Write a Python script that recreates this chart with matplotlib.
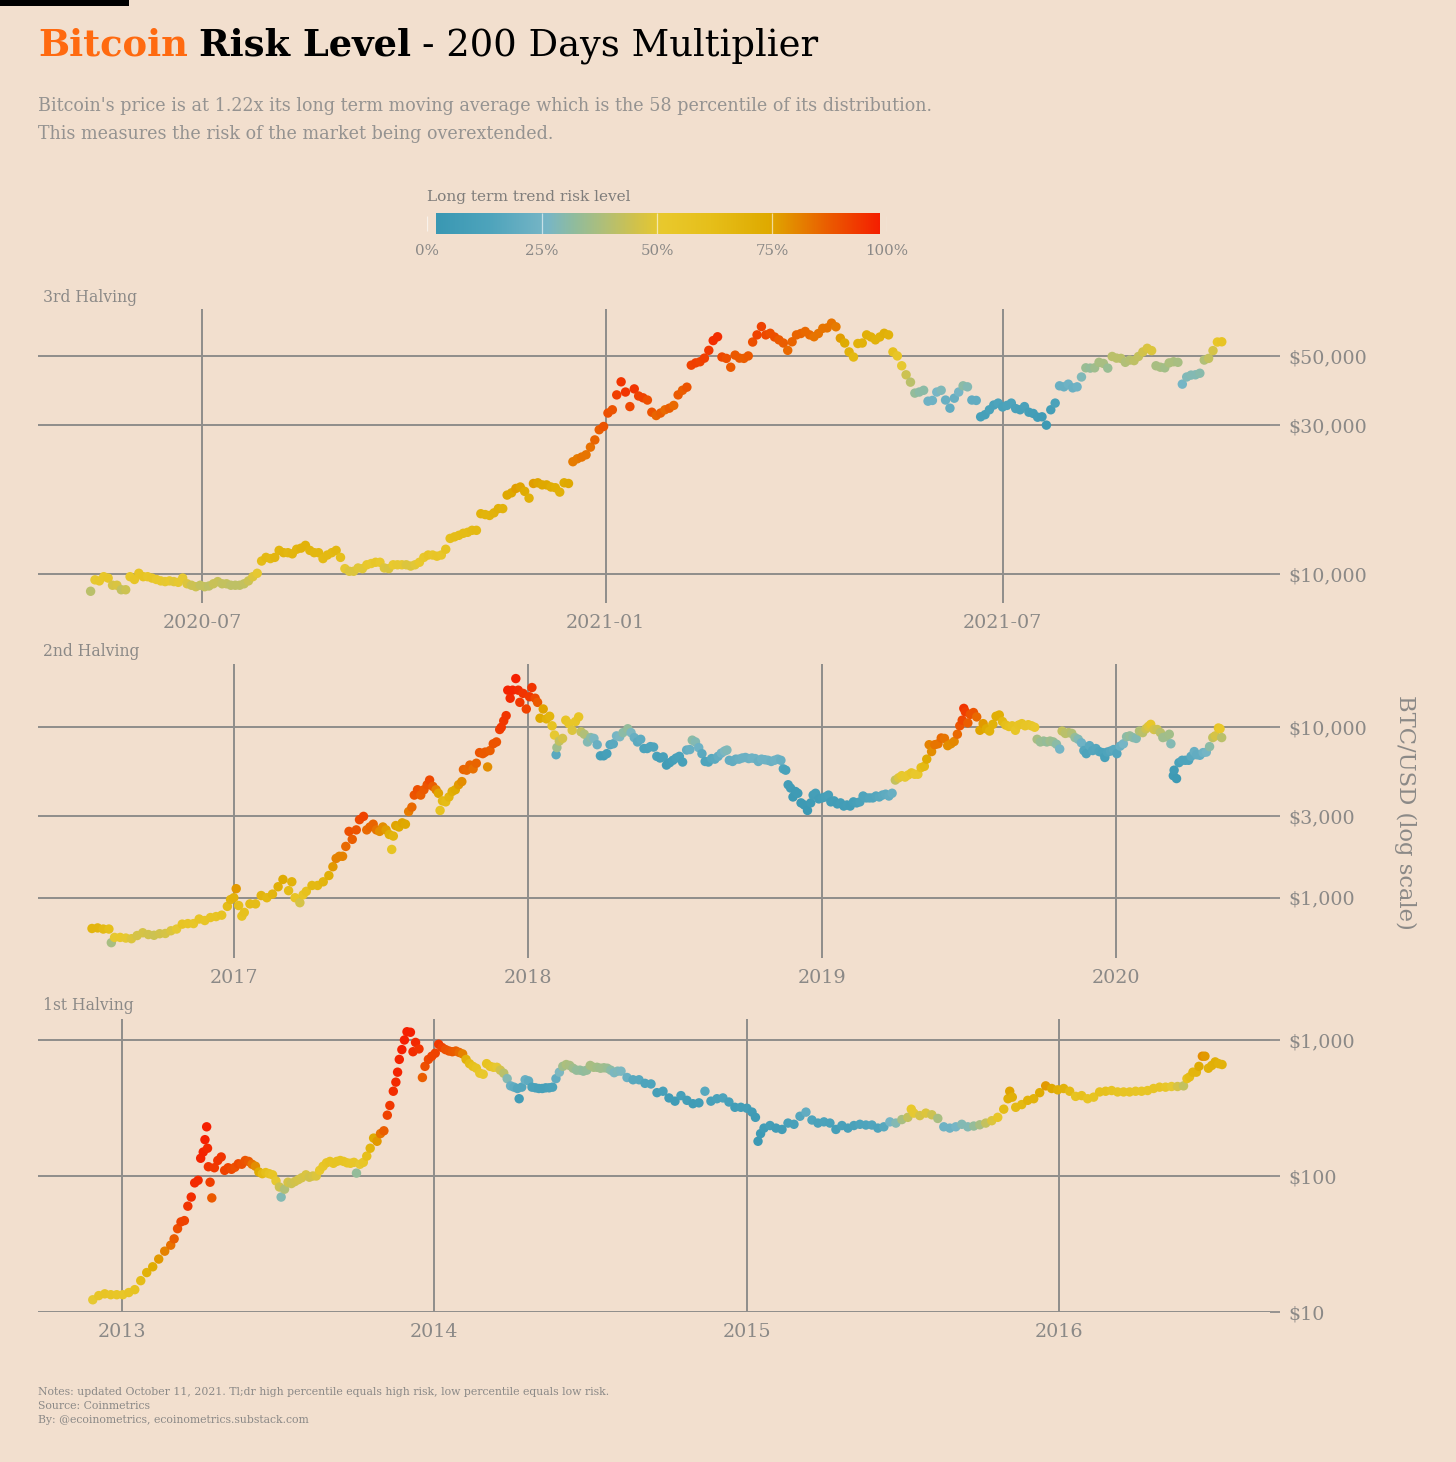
import matplotlib
matplotlib.use('Agg')
import matplotlib.pyplot as plt
from matplotlib.colors import LinearSegmentedColormap
from matplotlib.ticker import FixedLocator, NullLocator
from matplotlib.patches import Rectangle
import numpy as np
import pandas as pd

plt.rcParams['font.family'] = ['DejaVu Serif']

# ---------------- DATA ----------------
# 3rd halving (every 2 days from 2020-05-11)
p1_start = '2020-05-11'
p1_step_days = 2
p1_price = [
    8800, 9575, 9500, 9800, 9700, 9200, 9200, 8900, 8900, 9800,
    9600, 10050, 9800, 9800, 9700, 9600, 9500, 9450, 9500, 9450,
    9400, 9700, 9300, 9200, 9100, 9200, 9100, 9150, 9300, 9450,
    9300, 9300, 9200, 9200, 9200, 9300, 9500, 9800, 10050, 11000,
    11300, 11200, 11300, 11900, 11700, 11700, 11600, 12000, 12100, 12350,
    11900, 11700, 11700, 11200, 11500, 11700, 11900, 11300, 10400, 10200,
    10200, 10450, 10400, 10700, 10800, 10900, 10900, 10450, 10400, 10700,
    10700, 10700, 10700, 10600, 10700, 10900, 11300, 11500, 11500, 11400,
    11500, 12000, 13000, 13150, 13300, 13500, 13600, 13800, 13800, 15600,
    15500, 15400, 15700, 16200, 16200, 17900, 18200, 18800, 19000, 18400,
    17500, 19500, 19600, 19300, 19300, 19000, 18900, 18300, 19600, 19500,
    22900, 23400, 23700, 24100, 25500, 26900, 29000, 29700, 32800, 33600,
    37500, 41300, 38300, 34400, 39200, 37200, 36700, 36100, 33000, 32200,
    32800, 33600, 34000, 34700, 37500, 38800, 39700, 46700, 47500, 47900,
    49200, 52100, 56000, 57600, 49600, 49100, 46000, 50300, 49200, 49100,
    50000, 55400, 58400, 62100, 58400, 59100, 57500, 56300, 55000, 52100,
    55500, 58400, 59000, 59900, 58400, 57600, 59000, 61300, 61500, 63700,
    62000, 57000, 55000, 51500, 49600, 54800, 55000, 58400, 57500, 56300,
    57500, 59100, 58400, 51500, 50000, 46500, 43500, 41200, 38000, 38300,
    38800, 35800, 36000, 38300, 38800, 36100, 34000, 36600, 38300, 40100,
    39800, 36100, 36000, 31900, 32400, 33600, 34800, 35300, 34300, 34700,
    35300, 33900, 33600, 34400, 33000, 32700, 31800, 31900, 30000, 33600,
    35300, 40100, 39800, 40600, 39500, 39800, 42800, 45800, 45700, 45800,
    47700, 47300, 45700, 49800, 49200, 49100, 47700, 48500, 48300, 49800,
    51500, 52900, 52000, 46500, 46000, 45800, 47500, 47900, 47700, 40600,
    42800, 43400, 43500, 44000, 48500, 49100, 52000, 55400, 55500]
p1_risk = [
    40, 50, 53, 53, 54, 46, 47, 42, 44, 53,
    55, 56, 57, 54, 55, 52, 52, 50, 51, 49,
    50, 50, 48, 44, 44, 42, 42, 41, 43, 43,
    42, 42, 41, 41, 41, 42, 44, 48, 50, 64,
    66, 65, 68, 68, 69, 67, 68, 68, 70, 70,
    69, 67, 67, 65, 66, 66, 67, 62, 50, 48,
    48, 49, 49, 52, 51, 54, 52, 48, 47, 51,
    50, 50, 48, 48, 49, 52, 53, 56, 54, 55,
    54, 58, 62, 63, 63, 64, 64, 65, 66, 70,
    69, 69, 70, 71, 70, 75, 75, 77, 76, 74,
    71, 77, 76, 75, 75, 73, 72, 71, 74, 75,
    83, 83, 84, 84, 85, 87, 88, 90, 91, 90,
    94, 96, 96, 92, 96, 93, 93, 91, 90, 87,
    88, 86, 88, 86, 89, 88, 90, 93, 94, 93,
    94, 95, 97, 97, 92, 91, 89, 89, 89, 88,
    89, 91, 93, 93, 92, 91, 91, 89, 88, 86,
    87, 87, 87, 86, 86, 84, 84, 84, 84, 84,
    83, 77, 74, 70, 66, 70, 70, 72, 71, 70,
    70, 71, 70, 60, 55, 50, 44, 40, 32, 30,
    30, 22, 22, 25, 27, 20, 18, 20, 24, 30,
    28, 18, 18, 8, 8, 10, 10, 12, 10, 11,
    11, 9, 8, 9, 7, 6, 5, 4, 2, 6,
    10, 20, 20, 22, 21, 22, 27, 33, 32, 34,
    36, 36, 33, 40, 40, 40, 38, 39, 41, 42,
    45, 47, 48, 36, 36, 35, 37, 37, 36, 24,
    27, 28, 28, 29, 38, 42, 46, 54, 56]

# 2nd halving
p2_dates = [
    '2016-07-09','2016-07-16','2016-07-23','2016-07-30','2016-08-02','2016-08-06','2016-08-13','2016-08-20','2016-08-27','2016-09-03',
    '2016-09-10','2016-09-17','2016-09-24','2016-10-01','2016-10-08','2016-10-15','2016-10-22','2016-10-29','2016-11-05','2016-11-12',
    '2016-11-19','2016-11-26','2016-12-03','2016-12-10','2016-12-17','2016-12-24','2016-12-28','2017-01-01','2017-01-04','2017-01-07',
    '2017-01-11','2017-01-14','2017-01-21','2017-01-28','2017-02-04','2017-02-11','2017-02-18','2017-02-25','2017-03-03','2017-03-10',
    '2017-03-14','2017-03-18','2017-03-24','2017-03-28','2017-04-01','2017-04-08','2017-04-15','2017-04-22','2017-04-29','2017-05-04',
    '2017-05-08','2017-05-12','2017-05-16','2017-05-20','2017-05-24','2017-05-28','2017-06-02','2017-06-06','2017-06-11','2017-06-15',
    '2017-06-19','2017-06-23','2017-06-27','2017-07-01','2017-07-05','2017-07-09','2017-07-13','2017-07-16','2017-07-18','2017-07-21',
    '2017-07-25','2017-07-29','2017-08-02','2017-08-06','2017-08-10','2017-08-13','2017-08-17','2017-08-21','2017-08-25','2017-08-29',
    '2017-09-01','2017-09-05','2017-09-09','2017-09-12','2017-09-14','2017-09-17','2017-09-21','2017-09-25','2017-09-29','2017-10-03',
    '2017-10-07','2017-10-11','2017-10-13','2017-10-17','2017-10-21','2017-10-25','2017-10-29','2017-11-02','2017-11-06','2017-11-09',
    '2017-11-12','2017-11-15','2017-11-19','2017-11-23','2017-11-27','2017-11-29','2017-12-02','2017-12-05','2017-12-07','2017-12-10',
    '2017-12-13','2017-12-17','2017-12-20','2017-12-22','2017-12-26','2017-12-30','2018-01-03','2018-01-06','2018-01-10','2018-01-13',
    '2018-01-16','2018-01-20','2018-01-24','2018-01-28','2018-01-31','2018-02-03','2018-02-05','2018-02-06','2018-02-09','2018-02-13',
    '2018-02-17','2018-02-21','2018-02-25','2018-03-01','2018-03-05','2018-03-08','2018-03-12','2018-03-16','2018-03-20','2018-03-24',
    '2018-03-28','2018-04-01','2018-04-05','2018-04-09','2018-04-13','2018-04-17','2018-04-21','2018-04-25','2018-04-29','2018-05-05',
    '2018-05-09','2018-05-13','2018-05-17','2018-05-21','2018-05-25','2018-05-29','2018-06-02','2018-06-06','2018-06-10','2018-06-14',
    '2018-06-18','2018-06-22','2018-06-26','2018-06-30','2018-07-04','2018-07-08','2018-07-12','2018-07-17','2018-07-21','2018-07-24',
    '2018-07-28','2018-08-01','2018-08-05','2018-08-09','2018-08-13','2018-08-17','2018-08-21','2018-08-25','2018-08-29','2018-09-02',
    '2018-09-05','2018-09-08','2018-09-12','2018-09-16','2018-09-20','2018-09-24','2018-09-28','2018-10-02','2018-10-06','2018-10-10',
    '2018-10-14','2018-10-18','2018-10-22','2018-10-26','2018-10-30','2018-11-03','2018-11-07','2018-11-11','2018-11-14','2018-11-17',
    '2018-11-20','2018-11-23','2018-11-26','2018-11-29','2018-12-02','2018-12-06','2018-12-10','2018-12-14','2018-12-18','2018-12-21',
    '2018-12-24','2018-12-28','2019-01-01','2019-01-05','2019-01-09','2019-01-12','2019-01-16','2019-01-20','2019-01-24','2019-01-28',
    '2019-02-01','2019-02-05','2019-02-09','2019-02-13','2019-02-17','2019-02-21','2019-02-25','2019-03-01','2019-03-05','2019-03-09',
    '2019-03-13','2019-03-17','2019-03-21','2019-03-25','2019-03-29','2019-04-02','2019-04-06','2019-04-10','2019-04-14','2019-04-18',
    '2019-04-22','2019-04-26','2019-04-30','2019-05-04','2019-05-08','2019-05-11','2019-05-14','2019-05-17','2019-05-21','2019-05-25',
    '2019-05-29','2019-06-02','2019-06-06','2019-06-10','2019-06-14','2019-06-18','2019-06-21','2019-06-24','2019-06-26','2019-06-28',
    '2019-07-01','2019-07-04','2019-07-08','2019-07-12','2019-07-16','2019-07-20','2019-07-24','2019-07-28','2019-08-01','2019-08-05',
    '2019-08-09','2019-08-13','2019-08-17','2019-08-21','2019-08-25','2019-08-29','2019-09-02','2019-09-06','2019-09-10','2019-09-14',
    '2019-09-18','2019-09-22','2019-09-25','2019-09-29','2019-10-03','2019-10-07','2019-10-11','2019-10-15','2019-10-19','2019-10-23',
    '2019-10-26','2019-10-30','2019-11-03','2019-11-07','2019-11-11','2019-11-15','2019-11-19','2019-11-22','2019-11-25','2019-11-29',
    '2019-12-03','2019-12-07','2019-12-11','2019-12-15','2019-12-18','2019-12-21','2019-12-25','2019-12-29','2020-01-02','2020-01-06',
    '2020-01-10','2020-01-14','2020-01-18','2020-01-22','2020-01-26','2020-01-30','2020-02-03','2020-02-07','2020-02-10','2020-02-13',
    '2020-02-17','2020-02-21','2020-02-25','2020-02-28','2020-03-03','2020-03-07','2020-03-09','2020-03-12','2020-03-13','2020-03-16',
    '2020-03-19','2020-03-23','2020-03-27','2020-03-31','2020-04-03','2020-04-07','2020-04-10','2020-04-14','2020-04-18','2020-04-22',
    '2020-04-26','2020-04-30','2020-05-03','2020-05-07','2020-05-09','2020-05-11']
p2_price = [
    660, 665, 655, 655, 545, 585, 585, 580, 575, 600,
    623, 608, 602, 615, 617, 640, 655, 700, 705, 705,
    750, 735, 765, 775, 790, 890, 975, 1000, 1130, 900,
    780, 820, 920, 920, 1030, 1000, 1050, 1160, 1280, 1100,
    1240, 1000, 935, 1040, 1090, 1180, 1180, 1240, 1350, 1520,
    1700, 1750, 1750, 2000, 2450, 2200, 2500, 2870, 3000, 2500,
    2600, 2700, 2500, 2450, 2600, 2500, 2350, 1920, 2300, 2650,
    2600, 2750, 2700, 3200, 3400, 4000, 4300, 4000, 4300, 4600,
    4900, 4500, 4300, 4100, 3250, 3700, 3650, 3900, 4200, 4300,
    4600, 4800, 5650, 5600, 6000, 5700, 6150, 7100, 7000, 7150,
    5850, 7300, 8000, 8200, 9700, 10000, 10900, 11700, 16500, 14800,
    16500, 19300, 16500, 14000, 15800, 12800, 15100, 17100, 14800, 14000,
    11300, 12800, 11200, 11600, 10200, 9000, 6900, 7600, 8300, 8600,
    11000, 10500, 9600, 10800, 11500, 9400, 9100, 8200, 8700, 8600,
    7900, 6800, 6800, 7000, 7900, 8000, 8900, 8800, 9300, 9800,
    9300, 8700, 8200, 8500, 7500, 7500, 7700, 7650, 6750, 6600,
    6700, 6000, 6200, 6400, 6600, 6750, 6250, 7350, 7400, 8400,
    8200, 7600, 7000, 6300, 6250, 6550, 6500, 6750, 7050, 7250,
    7350, 6400, 6300, 6500, 6500, 6600, 6650, 6550, 6600, 6550,
    6300, 6500, 6450, 6400, 6300, 6400, 6500, 6400, 5700, 5600,
    4600, 4400, 3900, 4200, 4100, 3600, 3500, 3250, 3600, 4000,
    4100, 3800, 3850, 3900, 4000, 3650, 3700, 3550, 3600, 3450,
    3500, 3450, 3650, 3600, 3650, 3950, 3850, 3850, 3850, 3950,
    3900, 4000, 4050, 3950, 4100, 4900, 5050, 5200, 5100, 5250,
    5400, 5300, 5300, 5800, 5900, 6500, 7900, 7200, 7900, 8000,
    8650, 8600, 7800, 8000, 8250, 9100, 10200, 11000, 12900, 12300,
    10600, 11900, 12200, 11500, 9600, 10500, 9800, 9500, 10400, 11600,
    11800, 10800, 10300, 10100, 10200, 9600, 10300, 10500, 10200, 10350,
    10200, 10000, 8500, 8200, 8300, 8200, 8300, 8200, 7950, 7450,
    9500, 9200, 9300, 9200, 8700, 8500, 8100, 7300, 7000, 7800,
    7300, 7500, 7200, 7100, 6650, 7150, 7250, 7400, 7000, 7750,
    8000, 8800, 8900, 8700, 8600, 9500, 9300, 9800, 10100, 10400,
    9700, 9700, 9300, 8700, 8800, 9100, 8000, 5200, 5600, 5000,
    6200, 6400, 6400, 6400, 6750, 7200, 6900, 6850, 7100, 7150,
    7700, 8700, 8900, 9900, 9800, 8700]
p2_risk = [
    68, 68, 65, 62, 36, 50, 52, 50, 48, 46,
    46, 45, 44, 45, 46, 48, 50, 56, 55, 54,
    56, 55, 56, 56, 58, 64, 68, 70, 78, 62,
    58, 60, 64, 64, 68, 66, 68, 72, 74, 64,
    70, 56, 46, 56, 60, 66, 66, 68, 72, 78,
    82, 82, 82, 86, 91, 88, 90, 92, 93, 86,
    87, 87, 84, 80, 80, 77, 72, 57, 68, 76,
    74, 76, 75, 83, 86, 90, 91, 88, 89, 90,
    92, 88, 82, 76, 58, 66, 64, 68, 72, 74,
    78, 80, 87, 86, 87, 85, 87, 90, 89, 89,
    80, 88, 90, 90, 94, 95, 95, 96, 99, 98,
    99, 100, 98, 95, 96, 93, 95, 96, 92, 89,
    74, 76, 70, 68, 58, 50, 16, 34, 42, 46,
    56, 54, 48, 54, 56, 42, 38, 28, 30, 26,
    20, 8, 6, 8, 14, 16, 24, 26, 30, 32,
    26, 20, 16, 17, 11, 11, 12, 12, 8, 7,
    8, 4, 5, 7, 9, 10, 8, 18, 20, 30,
    28, 22, 16, 12, 12, 15, 16, 18, 22, 26,
    27, 18, 18, 19, 20, 21, 21, 21, 22, 22,
    20, 22, 22, 22, 21, 22, 22, 20, 12, 10,
    5, 4, 2, 3, 3, 2, 2, 1, 3, 6,
    7, 5, 6, 7, 8, 5, 6, 5, 6, 5,
    6, 5, 7, 8, 10, 12, 12, 13, 13, 14,
    15, 16, 17, 18, 20, 42, 48, 52, 50, 52,
    55, 52, 52, 62, 66, 74, 82, 80, 84, 84,
    86, 84, 80, 80, 81, 86, 90, 92, 96, 94,
    88, 90, 90, 86, 76, 78, 74, 70, 70, 72,
    72, 66, 62, 60, 58, 54, 56, 57, 55, 55,
    54, 52, 36, 33, 33, 32, 34, 33, 30, 24,
    42, 40, 40, 38, 32, 28, 22, 14, 11, 16,
    13, 14, 12, 11, 8, 12, 14, 16, 13, 20,
    24, 30, 32, 30, 28, 38, 40, 44, 48, 53,
    46, 44, 40, 34, 34, 35, 28, 3, 4, 2,
    10, 12, 12, 12, 16, 20, 18, 18, 22, 24,
    30, 42, 46, 55, 52, 40]

# 1st halving
p3_dates = [
    '2012-11-28','2012-12-05','2012-12-12','2012-12-19','2012-12-26','2013-01-02','2013-01-09','2013-01-16','2013-01-23','2013-01-30',
    '2013-02-06','2013-02-13','2013-02-20','2013-02-27','2013-03-03','2013-03-07','2013-03-11','2013-03-15','2013-03-19','2013-03-23',
    '2013-03-27','2013-03-31','2013-04-03','2013-04-06','2013-04-08','2013-04-10','2013-04-11','2013-04-12','2013-04-14','2013-04-16',
    '2013-04-19','2013-04-23','2013-04-27','2013-05-01','2013-05-05','2013-05-09','2013-05-13','2013-05-17','2013-05-21','2013-05-25',
    '2013-05-29','2013-06-02','2013-06-06','2013-06-10','2013-06-14','2013-06-18','2013-06-22','2013-06-26','2013-06-30','2013-07-04',
    '2013-07-06','2013-07-10','2013-07-14','2013-07-18','2013-07-22','2013-07-26','2013-07-30','2013-08-04','2013-08-08','2013-08-12',
    '2013-08-16','2013-08-20','2013-08-24','2013-08-28','2013-09-01','2013-09-05','2013-09-09','2013-09-13','2013-09-17','2013-09-21',
    '2013-09-25','2013-09-29','2013-10-02','2013-10-06','2013-10-10','2013-10-14','2013-10-18','2013-10-22','2013-10-26','2013-10-30',
    '2013-11-03','2013-11-07','2013-11-10','2013-11-14','2013-11-17','2013-11-19','2013-11-21','2013-11-24','2013-11-27','2013-11-30',
    '2013-12-04','2013-12-07','2013-12-10','2013-12-14','2013-12-18','2013-12-21','2013-12-25','2013-12-29','2014-01-02','2014-01-06',
    '2014-01-10','2014-01-14','2014-01-18','2014-01-22','2014-01-26','2014-01-30','2014-02-03','2014-02-07','2014-02-11','2014-02-15',
    '2014-02-19','2014-02-23','2014-02-27','2014-03-03','2014-03-07','2014-03-11','2014-03-15','2014-03-19','2014-03-23','2014-03-27',
    '2014-03-31','2014-04-04','2014-04-08','2014-04-10','2014-04-13','2014-04-17','2014-04-21','2014-04-25','2014-04-29','2014-05-03',
    '2014-05-07','2014-05-11','2014-05-15','2014-05-19','2014-05-23','2014-05-27','2014-05-31','2014-06-04','2014-06-08','2014-06-12',
    '2014-06-16','2014-06-20','2014-06-24','2014-06-28','2014-07-02','2014-07-06','2014-07-10','2014-07-14','2014-07-18','2014-07-22',
    '2014-07-26','2014-07-30','2014-08-03','2014-08-07','2014-08-14','2014-08-21','2014-08-28','2014-09-04','2014-09-11','2014-09-18',
    '2014-09-25','2014-10-02','2014-10-09','2014-10-16','2014-10-23','2014-10-30','2014-11-06','2014-11-13','2014-11-20','2014-11-27',
    '2014-12-04','2014-12-11','2014-12-18','2014-12-25','2015-01-01','2015-01-07','2015-01-11','2015-01-14','2015-01-17','2015-01-21',
    '2015-01-28','2015-02-04','2015-02-11','2015-02-18','2015-02-25','2015-03-04','2015-03-11','2015-03-18','2015-03-25','2015-04-01',
    '2015-04-08','2015-04-15','2015-04-22','2015-04-29','2015-05-06','2015-05-13','2015-05-20','2015-05-27','2015-06-03','2015-06-10',
    '2015-06-17','2015-06-24','2015-07-01','2015-07-08','2015-07-12','2015-07-15','2015-07-22','2015-07-29','2015-08-05','2015-08-12',
    '2015-08-19','2015-08-26','2015-09-02','2015-09-09','2015-09-16','2015-09-23','2015-09-30','2015-10-07','2015-10-14','2015-10-21',
    '2015-10-28','2015-11-02','2015-11-04','2015-11-07','2015-11-11','2015-11-18','2015-11-25','2015-12-02','2015-12-09','2015-12-16',
    '2015-12-23','2015-12-30','2016-01-06','2016-01-13','2016-01-20','2016-01-27','2016-02-03','2016-02-10','2016-02-17','2016-02-24',
    '2016-03-02','2016-03-09','2016-03-16','2016-03-23','2016-03-30','2016-04-06','2016-04-13','2016-04-20','2016-04-27','2016-05-04',
    '2016-05-11','2016-05-18','2016-05-25','2016-05-29','2016-06-01','2016-06-05','2016-06-09','2016-06-12','2016-06-16','2016-06-19',
    '2016-06-23','2016-06-27','2016-07-01','2016-07-05','2016-07-09']
p3_price = [
    12.3, 13.2, 13.6, 13.4, 13.4, 13.4, 13.9, 14.6, 17.0, 19.5,
    21.5, 24.5, 28.0, 31.0, 34.5, 41.0, 46.0, 47.0, 60.0, 70.0,
    89, 93, 135, 150, 185, 230, 160, 117, 90, 69,
    115, 130, 138, 110, 115, 112, 116, 123, 122, 130,
    128, 122, 118, 107, 104, 106, 104, 102, 92, 83,
    70, 80, 90, 88, 91, 94, 97, 102, 98, 100,
    100, 110, 118, 125, 128, 124, 128, 130, 128, 125,
    124, 126, 105, 122, 126, 140, 160, 190, 180, 205,
    215, 280, 330, 420, 490, 580, 720, 850, 1000, 1150,
    1140, 820, 960, 860, 530, 640, 720, 760, 800, 930,
    880, 850, 830, 820, 830, 810, 790, 720, 670, 640,
    620, 570, 560, 670, 640, 630, 630, 600, 570, 520,
    460, 450, 440, 370, 450, 510, 500, 450, 445, 440,
    440, 445, 445, 450, 520, 580, 640, 660, 650, 620,
    600, 600, 590, 600, 650, 630, 630, 620, 625, 620,
    600, 575, 590, 590, 530, 510, 510, 480, 475, 410,
    420, 375, 355, 390, 360, 340, 345, 420, 355, 370,
    375, 350, 320, 320, 315, 295, 270, 180, 205, 225,
    235, 225, 220, 245, 240, 275, 295, 258, 245, 250,
    245, 220, 235, 225, 235, 240, 237, 237, 225, 230,
    250, 245, 260, 270, 310, 290, 278, 290, 282, 265,
    230, 225, 230, 240, 230, 233, 238, 245, 255, 270,
    310, 370, 420, 380, 320, 335, 360, 370, 410, 460,
    440, 430, 440, 420, 385, 390, 370, 380, 415, 420,
    425, 415, 415, 415, 420, 420, 425, 440, 450, 450,
    455, 455, 460, 520, 535, 580, 580, 640, 760, 760,
    620, 650, 690, 670, 660]
p3_risk = [
    50, 55, 56, 55, 54, 54, 56, 58, 64, 70,
    73, 78, 82, 85, 88, 91, 93, 93, 96, 97,
    98, 98, 99, 99, 100, 100, 98, 96, 94, 89,
    95, 96, 96, 93, 93, 92, 91, 92, 91, 90,
    89, 84, 80, 74, 66, 62, 58, 55, 50, 44,
    28, 38, 46, 44, 45, 46, 46, 47, 45, 46,
    48, 52, 54, 56, 58, 56, 57, 57, 56, 55,
    54, 54, 32, 50, 54, 62, 68, 74, 78, 84,
    88, 93, 95, 97, 98, 99, 99, 100, 100, 100,
    100, 97, 98, 96, 88, 91, 92, 93, 93, 95,
    93, 91, 90, 89, 88, 86, 82, 70, 64, 60,
    57, 54, 52, 58, 56, 54, 50, 45, 40, 28,
    20, 17, 14, 4, 14, 20, 17, 10, 9, 8,
    8, 8, 9, 10, 18, 26, 34, 37, 36, 34,
    32, 32, 31, 32, 36, 36, 35, 34, 34, 33,
    30, 26, 27, 26, 20, 15, 15, 12, 12, 7,
    8, 4, 4, 8, 6, 4, 5, 15, 8, 10,
    11, 8, 5, 6, 6, 4, 3, 1, 2, 4,
    6, 4, 4, 8, 8, 14, 18, 12, 10, 11,
    10, 7, 9, 8, 10, 12, 12, 13, 12, 15,
    24, 28, 36, 42, 52, 50, 46, 48, 44, 36,
    22, 22, 24, 28, 28, 32, 36, 42, 48, 54,
    64, 72, 76, 72, 65, 66, 70, 70, 74, 78,
    75, 72, 70, 65, 58, 60, 56, 57, 60, 60,
    58, 57, 56, 56, 55, 55, 55, 56, 56, 54,
    50, 46, 42, 60, 64, 68, 68, 74, 80, 78,
    70, 71, 72, 70, 70]

assert len(p1_price) == len(p1_risk)
assert len(p2_dates) == len(p2_price) == len(p2_risk)
assert len(p3_dates) == len(p3_price) == len(p3_risk)

# colour scale stops (risk level fraction, colour)
risk_stops = [0.00, 0.12, 0.25, 0.31, 0.38, 0.45, 0.51, 0.62, 0.75, 0.82, 0.89, 1.00]
risk_colors = ['#3a98b3', '#4ea4bc', '#78b6c6', '#90bc9e', '#b1bf77', '#d1c24b',
               '#e9c92d', '#e6bf1a', '#dfaa00', '#e58200', '#eb5900', '#f51f00']
cbar_ticks = [0, 25, 50, 75, 100]
cbar_labels = ['0%', '25%', '50%', '75%', '100%']

# ---------------- STYLE ----------------
W, H = 1456, 1462
BG = '#f2dfce'
GRID = '#8f8d8b'
TXT = '#8b8987'
SUB = '#959391'
ORANGE = '#ff6a10'

cmap = LinearSegmentedColormap.from_list('risk', list(zip(risk_stops, risk_colors)))

fig = plt.figure(figsize=(W / 100, H / 100), dpi=100)
fig.patch.set_facecolor(BG)
renderer = fig.canvas.get_renderer()


def fx(px):
    return px / W


def fy(py):
    return 1 - py / H


def text_width(s, size, weight='normal'):
    t = fig.text(0, 0, s, fontsize=size, fontweight=weight)
    w = t.get_window_extent(renderer).width
    t.remove()
    return w


def fit(s, target, weight='normal'):
    return 20 * target / text_width(s, 20, weight)


# black bar top-left
fig.add_artist(Rectangle((0, fy(6)), fx(129), 6 / H, transform=fig.transFigure,
                         facecolor='black', edgecolor='none'))

# title
runs = [('Bitcoin', 'bold', ORANGE), ('Risk Level', 'bold', 'black'),
        ('- 200 Days Multiplier', 'normal', 'black')]
s0 = 26
tot = sum(text_width(r[0], s0, r[1]) for r in runs) + 2 * 0.3 * s0 * 100 / 72
ts = s0 * 780 / tot
x = 38
for txt, wt, col in runs:
    t = fig.text(fx(x), fy(55), txt, fontsize=ts, fontweight=wt, color=col, va='baseline')
    x += t.get_window_extent(renderer).width + 0.3 * ts * 100 / 72

# subtitle
sub1 = ("Bitcoin's price is at 1.22x its long term moving average which is the 58 "
        "percentile of its distribution.")
sub2 = "This measures the risk of the market being overextended."
ss = fit(sub1, 894)
fig.text(fx(38), fy(111), sub1, fontsize=ss, color=SUB, va='baseline')
fig.text(fx(38), fy(139), sub2, fontsize=ss, color=SUB, va='baseline')

# colour bar
cax = fig.add_axes([fx(427), fy(234), 460 / W, 21 / H])
grad = np.linspace(0, 100, 512)[None, :]
cax.imshow(grad, cmap=cmap, vmin=0, vmax=100, aspect='auto', extent=(2, 98.5, 0, 1))
cax.set_xlim(0, 100)
cax.set_ylim(0, 1)
cax.vlines([25, 50, 75], 0, 1, colors='white', lw=0.9, alpha=0.6)
cax.vlines([0, 100], 0.15, 0.85, colors='white', lw=0.9, alpha=0.6)
for sp in cax.spines.values():
    sp.set_visible(False)
cax.set_facecolor('none')
cax.set_yticks([])
cax.set_xticks(cbar_ticks)
cax.set_xticklabels(cbar_labels)
cax.tick_params(axis='x', length=0, pad=7, labelsize=fit('100%', 43), labelcolor=TXT)
fig.text(fx(427), fy(197), 'Long term trend risk level', fontsize=fit('Long term trend risk level', 205),
         color='#7f7d7b', va='center')

tick_fs = fit('2020-07', 80)
ytick_fs = fit('$10,000', 79)
label_fs = fit('3rd Halving', 94)


def panel(top, bottom, xlim, xt, xtl, ylim, yt, ytl, dates, price, risk, label, label_y):
    ax = fig.add_axes([fx(38), fy(bottom), (1270 - 38) / W, (bottom - top) / H])
    ax.set_facecolor('none')
    ax.set_yscale('log')
    ax.scatter(dates, price, c=risk, cmap=cmap, vmin=0, vmax=100, s=46,
               linewidths=0, zorder=3)
    ax.set_xlim(np.datetime64(xlim[0]), np.datetime64(xlim[1]))
    ax.set_ylim(*ylim)
    for sp in ax.spines.values():
        sp.set_visible(False)
    ax.set_xticks([np.datetime64(t) for t in xt])
    ax.set_xticklabels(xtl)
    ax.yaxis.set_major_locator(FixedLocator(yt))
    ax.yaxis.set_minor_locator(NullLocator())
    ax.set_yticklabels(ytl)
    ax.yaxis.tick_right()
    ax.tick_params(axis='y', which='major', length=7, width=1.3, color=GRID,
                   labelcolor=TXT, labelsize=ytick_fs, pad=6)
    ax.tick_params(axis='x', length=0, labelcolor=TXT, labelsize=tick_fs, pad=8)
    ax.grid(True, color=GRID, lw=1.4)
    ax.set_axisbelow(True)
    fig.text(fx(43), fy(label_y), label, fontsize=label_fs, color=TXT, va='center')
    return ax


p1_dates = pd.date_range(p1_start, periods=len(p1_price), freq=f'{p1_step_days}D').to_numpy()

panel(309, 603, ('2020-04-17', '2021-10-31'),
      ['2020-07-01', '2021-01-01', '2021-07-01'], ['2020-07', '2021-01', '2021-07'],
      (8070, 70700), [10000, 30000, 50000], ['$10,000', '$30,000', '$50,000'],
      p1_dates, p1_price, p1_risk, '3rd Halving', 297)

panel(664, 958, ('2016-05-03', '2020-07-10'),
      ['2017-01-01', '2018-01-01', '2019-01-01', '2020-01-01'], ['2017', '2018', '2019', '2020'],
      (443, 23500), [1000, 3000, 10000], ['$1,000', '$3,000', '$10,000'],
      pd.to_datetime(p2_dates).to_numpy(), p2_price, p2_risk, '2nd Halving', 651)

panel(1019, 1312, ('2012-09-25', '2016-09-03'),
      ['2013-01-01', '2014-01-01', '2015-01-01', '2016-01-01'], ['2013', '2014', '2015', '2016'],
      (10, 1427), [10, 100, 1000], ['$10', '$100', '$1,000'],
      pd.to_datetime(p3_dates).to_numpy(), p3_price, p3_risk, '1st Halving', 1005)

# y axis label
fig.text(fx(1405), fy(812), 'BTC/USD (log scale)', rotation=270, ha='center', va='center',
         fontsize=fit('BTC/USD (log scale)', 235), color=TXT)

# footer
f1 = "Notes: updated October 11, 2021. Tl;dr high percentile equals high risk, low percentile equals low risk."
fs = fit(f1, 574)
fig.text(fx(38), fy(1395), f1, fontsize=fs, color=TXT, va='baseline')
fig.text(fx(38), fy(1409), "Source: Coinmetrics", fontsize=fs, color=TXT, va='baseline')
fig.text(fx(38), fy(1423), "By: @ecoinometrics, ecoinometrics.substack.com", fontsize=fs, color=TXT,
         va='baseline')

fig.savefig('out.png', dpi=100, facecolor=BG)
